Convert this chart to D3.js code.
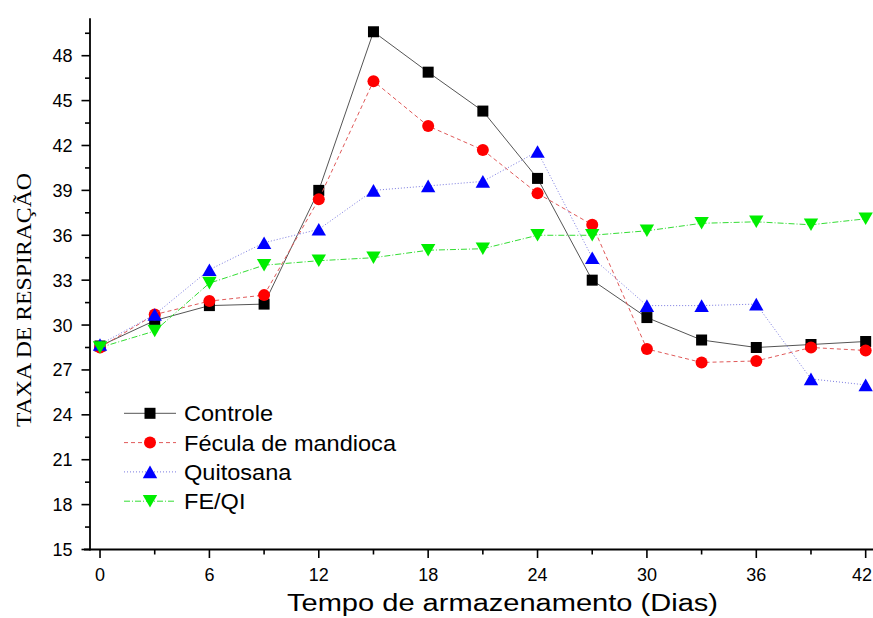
<!DOCTYPE html>
<html>
<head>
<meta charset="utf-8">
<script src="https://cdn.jsdelivr.net/npm/d3@7"></script>
<style>
  html, body { margin: 0; padding: 0; background: #fff; }
  svg { display: block; }
</style>
</head>
<body>
<svg id="chart" width="873" height="618"></svg>
<script>
// Storage days
const dias = [0, 3, 6, 9, 12, 15, 18, 21, 24, 27, 30, 33, 36, 39, 42];

// Respiration rate per treatment
const controle = [28.6, 30.3, 31.3, 31.4, 39.0, 49.6, 46.9, 44.3, 39.8, 33.0, 30.5, 29.0, 28.5, 28.7, 28.9];
const fecula   = [28.5, 30.7, 31.6, 32.0, 38.4, 46.3, 43.3, 41.7, 38.8, 36.7, 28.4, 27.5, 27.6, 28.5, 28.3];
const quitosana= [28.7, 30.7, 33.7, 35.5, 36.4, 39.0, 39.3, 39.6, 41.6, 34.5, 31.3, 31.3, 31.4, 26.4, 26.0];
const feqi     = [28.5, 29.6, 32.8, 34.0, 34.3, 34.5, 35.0, 35.1, 36.0, 36.0, 36.3, 36.8, 36.9, 36.7, 37.1];

const seriesNames = ["Controle", "Fécula de mandioca", "Quitosana", "FE/QI"];
const xTicks = [0, 6, 12, 18, 24, 30, 36, 42];
const yTicks = [15, 18, 21, 24, 27, 30, 33, 36, 39, 42, 45, 48];

const styles = [
  { line: "#555555", dash: null,        marker: "square",   fill: "#000000" },
  { line: "#e05a5a", dash: "4,3",       marker: "circle",   fill: "#ff0000" },
  { line: "#7a7ae0", dash: "1,2",       marker: "triUp",    fill: "#0000ff" },
  { line: "#33dd33", dash: "6,2,1,2",   marker: "triDown",  fill: "#00ee00" }
];
const values = [controle, fecula, quitosana, feqi];

const svg = d3.select("#chart");
const x = d3.scaleLinear().domain([-0.55, 42.55]).range([90, 875.7]);
const y = d3.scaleLinear().domain([15, 50.5]).range([549.5, 18.3]);

// Axes
const xAxis = svg.append("g").attr("transform", `translate(0,${y(15)})`);
xAxis.append("line").attr("x1", 84).attr("x2", 873)
  .attr("stroke", "#000").attr("stroke-width", 1.8);
d3.range(0, 43, 3).forEach(v => {
  const major = v % 6 === 0;
  xAxis.append("line").attr("x1", x(v)).attr("x2", x(v))
    .attr("y1", 0).attr("y2", major ? 8.5 : 5)
    .attr("stroke", "#000").attr("stroke-width", 1.6);
});
// the last label sits against the right edge, so it is kept inside the frame
xAxis.selectAll("text.tick").data(xTicks).join("text")
  .attr("x", d => Math.min(x(d), 862))
  .attr("y", 31.5)
  .attr("text-anchor", "middle")
  .attr("font-family", "Liberation Sans, Arial, sans-serif")
  .attr("font-size", 18).text(d => d);

const yAxis = svg.append("g").attr("transform", `translate(${x(-0.55)},0)`);
yAxis.append("line").attr("y1", y(50.5)).attr("y2", y(15) + 1)
  .attr("stroke", "#000").attr("stroke-width", 1.8);
d3.range(15, 50.1, 1.5).forEach(v => {
  const major = Math.abs((v - 15) % 3) < 1e-6;
  yAxis.append("line").attr("x1", 0).attr("x2", major ? -8.5 : -5)
    .attr("y1", y(v)).attr("y2", y(v))
    .attr("stroke", "#000").attr("stroke-width", 1.6);
});
yAxis.selectAll("text.tick").data(yTicks).join("text")
  .attr("x", -17.5).attr("y", d => y(d) + 6.5)
  .attr("text-anchor", "end")
  .attr("font-family", "Liberation Sans, Arial, sans-serif")
  .attr("font-size", 18).text(d => d);

// Axis titles
svg.append("text")
  .attr("x", 287).attr("y", 611)
  .attr("font-family", "Liberation Sans, Arial, sans-serif")
  .attr("font-size", 23)
  .attr("textLength", 431).attr("lengthAdjust", "spacingAndGlyphs")
  .text("Tempo de armazenamento (Dias)");

svg.append("text")
  .attr("transform", "translate(30.5,427) rotate(-90)")
  .attr("font-family", "Liberation Serif, Times New Roman, serif")
  .attr("font-size", 22)
  .attr("textLength", 254).attr("lengthAdjust", "spacingAndGlyphs")
  .text("TAXA DE RESPIRAÇÃO");

// Marker shapes
function marker(g, type, cx, cy, fill) {
  if (type === "square") {
    g.append("rect").attr("x", cx - 5.5).attr("y", cy - 5.5)
      .attr("width", 11).attr("height", 11).attr("fill", fill);
  } else if (type === "circle") {
    g.append("circle").attr("cx", cx).attr("cy", cy).attr("r", 6).attr("fill", fill);
  } else if (type === "triUp") {
    g.append("path").attr("d",
      `M${cx},${cy - 6.3}L${cx + 7.2},${cy + 6.3}L${cx - 7.2},${cy + 6.3}Z`)
      .attr("fill", fill);
  } else {
    g.append("path").attr("d",
      `M${cx},${cy + 6.3}L${cx + 7.2},${cy - 6.3}L${cx - 7.2},${cy - 6.3}Z`)
      .attr("fill", fill);
  }
}

// Series
const line = d3.line().x(d => x(d[0])).y(d => y(d[1]));
values.forEach((vals, i) => {
  const st = styles[i];
  const pts = dias.map((d, k) => [d, vals[k]]);
  const g = svg.append("g");
  g.append("path").attr("d", line(pts))
    .attr("fill", "none").attr("stroke", st.line).attr("stroke-width", 1)
    .attr("stroke-dasharray", st.dash);
  pts.forEach(p => marker(g, st.marker, x(p[0]), y(p[1]), st.fill));
});

// Legend (text slightly widened)
const legend = svg.append("g");
seriesNames.forEach((name, i) => {
  const st = styles[i];
  const ly = 413.3 + i * 29.3;
  legend.append("line").attr("x1", 124).attr("x2", 176).attr("y1", ly).attr("y2", ly)
    .attr("stroke", st.line).attr("stroke-width", 1).attr("stroke-dasharray", st.dash);
  marker(legend, st.marker, 150, ly, st.fill);
  const t = legend.append("text").attr("x", 184).attr("y", ly + 8)
    .attr("font-family", "Liberation Sans, Arial, sans-serif")
    .attr("font-size", 22).text(name);
  const w = t.node().getComputedTextLength();
  t.attr("textLength", w * 1.07).attr("lengthAdjust", "spacingAndGlyphs");
});
</script>
</body>
</html>
